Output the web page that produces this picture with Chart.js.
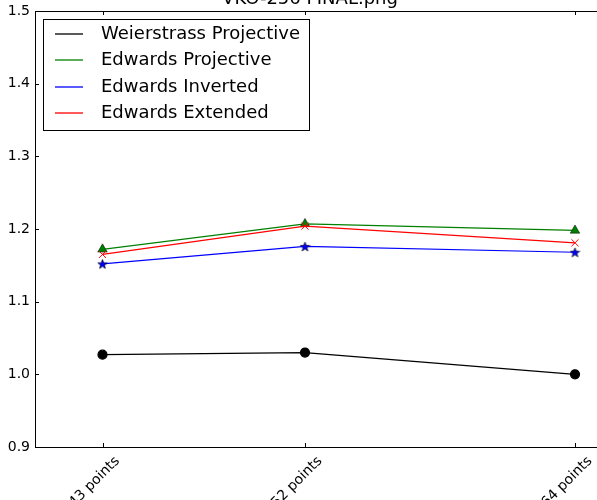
<!DOCTYPE html>
<html>
<head>
<meta charset="utf-8">
<script src="https://cdn.jsdelivr.net/npm/chart.js@4.4.0/dist/chart.umd.min.js"></script>
<style>
html, body { margin: 0; padding: 0; background: #fff; overflow: hidden; }
#wrap { width: 597px; height: 500px; overflow: hidden; position: relative; }
#myChart { position: absolute; left: 0; top: -14px; }
</style>
</head>
<body>
<div id="wrap"><canvas id="myChart" width="640" height="520"></canvas></div>
<script>
var chartTitle = 'VKO-256 FINAL.png';
var categories = ['43 points', '52 points', '64 points'];
var pointCounts = [43, 52, 64];
var yTicks = [0.9, 1.0, 1.1, 1.2, 1.3, 1.4, 1.5];

var weierstrassProjective = [1.027, 1.030, 1.000];
var edwardsProjective = [1.172, 1.207, 1.198];
var edwardsInverted = [1.152, 1.176, 1.168];
var edwardsExtended = [1.165, 1.204, 1.181];

var seriesColors = ['#000000', '#008000', '#0000ff', '#ff0000'];

function toPoints(values) {
    return values.map(function (v, i) { return { x: pointCounts[i], y: v }; });
}

// filled 5-point star like matplotlib '*'
function starImage(size, fill, stroke) {
    var c = document.createElement('canvas');
    c.width = size; c.height = size;
    var g = c.getContext('2d');
    var cx = size / 2, cy = size / 2 + 0.5, R = size / 2 - 0.5, r = R * 0.42;
    g.beginPath();
    for (var i = 0; i < 10; i++) {
        var a = -Math.PI / 2 + i * Math.PI / 5;
        var rr = i % 2 ? r : R;
        g.lineTo(cx + rr * Math.cos(a), cy + rr * Math.sin(a));
    }
    g.closePath();
    g.fillStyle = fill; g.fill();
    g.strokeStyle = stroke; g.lineWidth = 0.6; g.stroke();
    return c;
}

var font = '"DejaVu Sans", sans-serif';

// box around the plot with inward ticks on all sides
var frame = {
    id: 'frame',
    afterDatasetsDraw: function (chart) {
        var ctx = chart.ctx, a = chart.chartArea;
        var xs = chart.scales.x, ys = chart.scales.y;
        ctx.save();
        ctx.strokeStyle = '#000';
        ctx.lineWidth = 1;
        ctx.strokeRect(Math.round(a.left) + 0.5, Math.round(a.top) + 0.5,
            Math.round(a.right - a.left), Math.round(a.bottom - a.top));
        ctx.beginPath();
        pointCounts.forEach(function (v) {
            var px = Math.round(xs.getPixelForValue(v)) + 0.5;
            ctx.moveTo(px, a.bottom); ctx.lineTo(px, a.bottom - 4);
            ctx.moveTo(px, a.top); ctx.lineTo(px, a.top + 4);
        });
        yTicks.forEach(function (v) {
            var py = Math.round(ys.getPixelForValue(v)) + 0.5;
            ctx.moveTo(a.left, py); ctx.lineTo(a.left + 4, py);
            ctx.moveTo(a.right, py); ctx.lineTo(a.right - 4, py);
        });
        ctx.stroke();
        ctx.restore();
    }
};

// matplotlib-style legend box in the upper left of the plot
var boxLegend = {
    id: 'boxLegend',
    afterDraw: function (chart) {
        var ctx = chart.ctx, a = chart.chartArea;
        var x0 = Math.round(a.left) + 8, y0 = Math.round(a.top) + 8, w = 266, h = 111;
        ctx.save();
        ctx.fillStyle = '#fff';
        ctx.fillRect(x0, y0, w, h);
        ctx.strokeStyle = '#000';
        ctx.lineWidth = 1;
        ctx.strokeRect(x0 + 0.5, y0 + 0.5, w, h);
        ctx.font = '18px ' + font;
        ctx.textBaseline = 'middle';
        chart.data.datasets.forEach(function (ds, i) {
            var y = Math.round(y0 + 15 + i * 26.3);
            ctx.strokeStyle = seriesColors[i];
            ctx.lineWidth = 1.3;
            ctx.beginPath();
            ctx.moveTo(x0 + 12, y); ctx.lineTo(x0 + 40, y);
            ctx.stroke();
            ctx.fillStyle = '#000';
            ctx.fillText(ds.label, x0 + 58, y);
        });
        ctx.restore();
    }
};

var ctx = document.getElementById('myChart');
var myChart = new Chart(ctx, {
    type: 'line',
    data: {
        datasets: [{
            label: 'Weierstrass Projective',
            data: toPoints(weierstrassProjective),
            borderColor: seriesColors[0],
            backgroundColor: seriesColors[0],
            pointStyle: 'circle',
            pointRadius: 4.5,
            borderWidth: 1.2,
            order: 3
        }, {
            label: 'Edwards Projective',
            data: toPoints(edwardsProjective),
            borderColor: seriesColors[1],
            backgroundColor: seriesColors[1],
            pointBorderColor: '#000000',
            pointBorderWidth: 0.5,
            pointStyle: 'triangle',
            pointRadius: 5.5,
            borderWidth: 1.2,
            order: 2
        }, {
            label: 'Edwards Inverted',
            data: toPoints(edwardsInverted),
            borderColor: seriesColors[2],
            backgroundColor: seriesColors[2],
            pointStyle: starImage(11, seriesColors[2], '#000000'),
            borderWidth: 1.2,
            order: 1
        }, {
            label: 'Edwards Extended',
            data: toPoints(edwardsExtended),
            borderColor: seriesColors[3],
            backgroundColor: seriesColors[3],
            pointStyle: 'crossRot',
            pointRadius: 5,
            pointBorderWidth: 1,
            borderWidth: 1.2,
            order: 0
        }]
    },
    options: {
        responsive: false,
        animation: false,
        layout: { padding: { top: 0, right: 20, bottom: 0, left: 0 } },
        plugins: {
            legend: { display: false },
            tooltip: { enabled: false },
            title: {
                display: true,
                text: chartTitle,
                color: '#000',
                font: { family: font, size: 18, weight: 'normal' },
                padding: { top: 2.2, bottom: 1.2 }
            }
        },
        scales: {
            x: {
                type: 'linear',
                min: 40,
                max: 66,
                grid: { display: false, drawTicks: false },
                border: { display: false },
                afterBuildTicks: function (scale) {
                    scale.ticks = pointCounts.map(function (v) { return { value: v }; });
                },
                afterFit: function (scale) { scale.height = 59; },
                ticks: {
                    autoSkip: false,
                    minRotation: 45,
                    maxRotation: 45,
                    padding: 6,
                    labelOffset: 15,
                    color: '#000',
                    font: { family: font, size: 14 },
                    callback: function (v) { return categories[pointCounts.indexOf(v)]; }
                }
            },
            y: {
                min: 0.9,
                max: 1.5,
                grid: { display: false, drawTicks: false },
                border: { display: false },
                afterBuildTicks: function (scale) {
                    scale.ticks = yTicks.map(function (v) { return { value: v }; });
                },
                afterFit: function (scale) { scale.width = 35; },
                ticks: {
                    padding: 5,
                    color: '#000',
                    font: { family: font, size: 14 },
                    callback: function (v) { return v.toFixed(1); }
                }
            }
        }
    },
    plugins: [frame, boxLegend]
});
</script>
</body>
</html>
